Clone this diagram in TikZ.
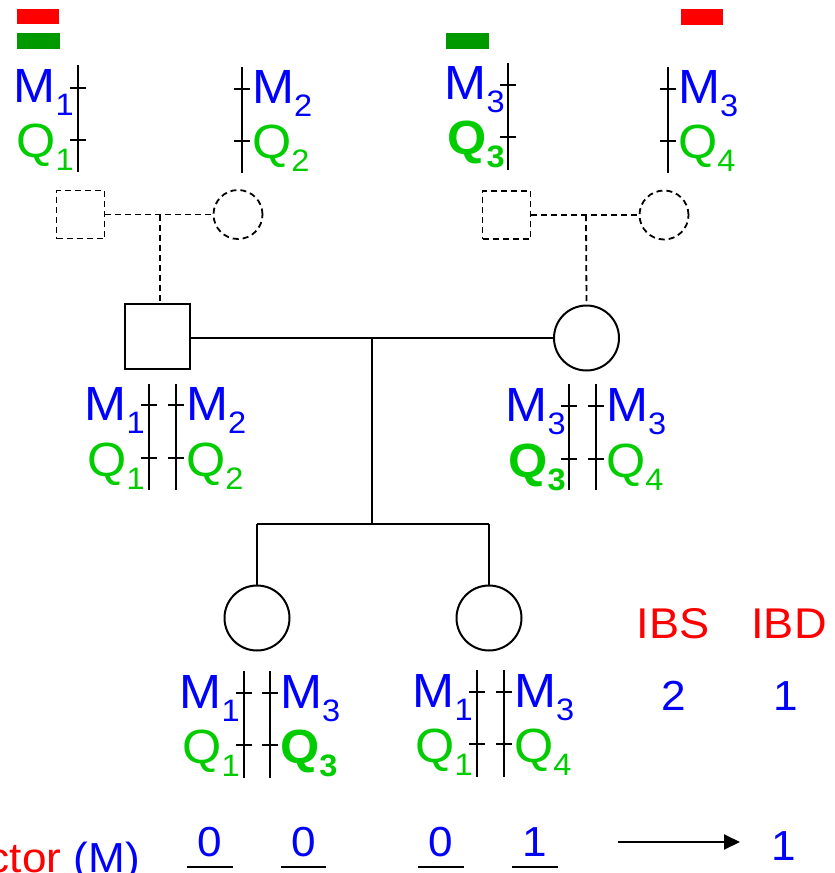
\documentclass[tikz,border=0pt]{standalone}
\usepackage{fontspec}
\setmainfont{Liberation Sans}[FakeStretch=1.05]
\usetikzlibrary{arrows.meta}
\definecolor{mblue}{RGB}{0,0,255}
\definecolor{qgreen}{RGB}{0,204,0}
\definecolor{bargreen}{RGB}{0,153,0}
\definecolor{barred}{RGB}{255,0,0}
\newcommand\subd[1]{\raisebox{-13pt}{\fontsize{31}{31}\selectfont #1}}
\newcommand\alM[1]{M\subd{#1}}
\newcommand\alQ[1]{Q\subd{#1}}
\newcommand\alQb[1]{\textbf{Q\subd{#1}}}
\newcommand\chromline[5]{%
  \draw[chrom] (#1,#2) -- (#1,#3);
  \draw[chrom] ({#1-8},#4) -- ({#1+8},#4);
  \draw[chrom] ({#1-8},#5) -- ({#1+8},#5);}
\tikzset{
  chrom/.style={line width=2pt, black},
  ped/.style={line width=2pt, black},
  pedd/.style={line width=1.8pt, black, dash pattern=on 6pt off 4pt},
  male/.style={draw, rectangle, inner sep=0, minimum size=65pt, line width=2pt},
  female/.style={draw, circle, inner sep=0, minimum size=65pt, line width=2pt},
  dmale/.style={draw, rectangle, inner sep=0, minimum size=48pt, pedd},
  dfemale/.style={draw, circle, inner sep=0, minimum size=49pt, pedd},
  mlab/.style={text=mblue, font=\fontsize{48}{48}\selectfont, inner sep=0},
  qlab/.style={text=qgreen, font=\fontsize{48}{48}\selectfont, inner sep=0},
  redlab/.style={text=barred, font=\fontsize{43}{43}\selectfont, inner sep=0},
  bluelab/.style={text=mblue, font=\fontsize{42}{42}\selectfont, inner sep=0},
  uline/.style={line width=2pt, black},
}
\begin{document}
\begin{tikzpicture}[x=1pt, y=-1pt]
\useasboundingbox (0,0) rectangle (835,873);

% colour bars
\fill[barred] (17,9) rectangle (59,24);
\fill[bargreen] (17,33) rectangle (60,49);
\fill[bargreen] (446,33) rectangle (489,49);
\fill[barred] (681,9) rectangle (723,25);

% grandparents (dashed)
\node[dmale] (gf1) at (80.5,214.5) {};
\node[dfemale] (gm1) at (238,214.5) {};
\node[dmale] (gf2) at (506.5,215) {};
\node[dfemale] (gm2) at (664,215) {};
% parents
\node[male] (fa) at (157.5,336.5) {};
\node[female] (mo) at (586.5,338) {};
% children
\node[female] (c1) at (257,618) {};
\node[female] (c2) at (489,618) {};

\coordinate (j1) at (160,214.5);
\coordinate (j2) at (586,215);
\coordinate (j3) at (372,338);
\coordinate (j4) at (372,524);
\coordinate (s1) at (257,524);
\coordinate (s2) at (489,524);

\draw[pedd] (gf1.east) -- (gm1.west);
\draw[pedd] (j1) -- (j1 |- fa.north);
\draw[pedd] (gf2.east) -- (gm2.west);
\draw[pedd] (j2) -- (mo.north);
\draw[ped] (fa.east |- j3) -- (mo.west);
\draw[ped] (j3) -- (j4);
\draw[ped] (s1) -- (s2);
\draw[ped] (s1) -- (c1.north);
\draw[ped] (s2) -- (c2.north);

% chromosomes
\chromline{78}{65}{172}{88}{140}
\chromline{242}{67}{173}{89}{141}
\chromline{508}{63}{170}{85}{137}
\chromline{668}{67}{173}{89}{141}
\chromline{149}{384}{490}{405}{458}
\chromline{176}{384}{490}{405}{458}
\chromline{569}{384}{490}{406}{459}
\chromline{596}{384}{490}{406}{459}
\chromline{244}{671}{778}{693}{745}
\chromline{270}{671}{778}{693}{745}
\chromline{477}{670}{777}{692}{744}
\chromline{504}{670}{777}{692}{744}

% labels top
\node[mlab, anchor=base east] (l1) at (74,102) {\alM{1}};
\node[qlab, anchor=base east] (l2) at (74,157) {\alQ{1}};
\node[mlab, anchor=base west] (l3) at (252,103) {\alM{2}};
\node[qlab, anchor=base west] (l4) at (252,158) {\alQ{2}};
\node[mlab, anchor=base east] (l5) at (505,99) {\alM{3}};
\node[qlab, anchor=base east] (l6) at (505,154) {\alQb{3}};
\node[mlab, anchor=base west] (l7) at (678,103) {\alM{3}};
\node[qlab, anchor=base west] (l8) at (678,158) {\alQ{4}};
% labels parents
\node[mlab, anchor=base east] (f1) at (145,420) {\alM{1}};
\node[qlab, anchor=base east] (f2) at (145,476) {\alQ{1}};
\node[mlab, anchor=base west] (f3) at (186,420) {\alM{2}};
\node[qlab, anchor=base west] (f4) at (186,476) {\alQ{2}};
\node[mlab, anchor=base east] (m1) at (566,421) {\alM{3}};
\node[qlab, anchor=base east] (m2) at (566,477) {\alQb{3}};
\node[mlab, anchor=base west] (m3) at (606,421) {\alM{3}};
\node[qlab, anchor=base west] (m4) at (606,477) {\alQ{4}};
% labels children
\node[mlab, anchor=base east] (k1) at (240,708) {\alM{1}};
\node[qlab, anchor=base east] (k2) at (240,763) {\alQ{1}};
\node[mlab, anchor=base west] (k3) at (280,708) {\alM{3}};
\node[qlab, anchor=base west] (k4) at (280,763) {\alQb{3}};
\node[mlab, anchor=base east] (k5) at (473,707) {\alM{1}};
\node[qlab, anchor=base east] (k6) at (473,762) {\alQ{1}};
\node[mlab, anchor=base west] (k7) at (514,707) {\alM{3}};
\node[qlab, anchor=base west] (k8) at (514,762) {\alQ{4}};

% IBS / IBD
\node[redlab, anchor=base] (ibs) at (673,638) {IBS};
\node[redlab, anchor=base] (ibd) at (789,638) {IBD};
\node[bluelab, anchor=base] (ibsv) at (674,710) {2};
\node[bluelab, anchor=base] (ibdv) at (786,710) {1};

% bottom row
\node[inner sep=0, anchor=base east, font=\fontsize{42}{42}\selectfont] (ind) at (140,872)
  {\textcolor{barred}{ctor} \textcolor{mblue}{(M)}};
\node[bluelab, anchor=base] (d1) at (210,856) {0};
\node[bluelab, anchor=base] (d2) at (304,856) {0};
\node[bluelab, anchor=base] (d3) at (441,856) {0};
\node[bluelab, anchor=base] (d4) at (535,856) {1};
\draw[uline] (187,867) -- (233,867);
\draw[uline] (281,867) -- (326,867);
\draw[uline] (418,867) -- (464,867);
\draw[uline] (512,867) -- (558,867);
\coordinate (a1) at (618,842);
\coordinate (a2) at (740,842);
\node[bluelab, anchor=base] (res) at (784,860) {1};
\draw[line width=2pt, -{Triangle[length=16pt,width=15pt]}] (a1) -- (a2);
\end{tikzpicture}
\end{document}
